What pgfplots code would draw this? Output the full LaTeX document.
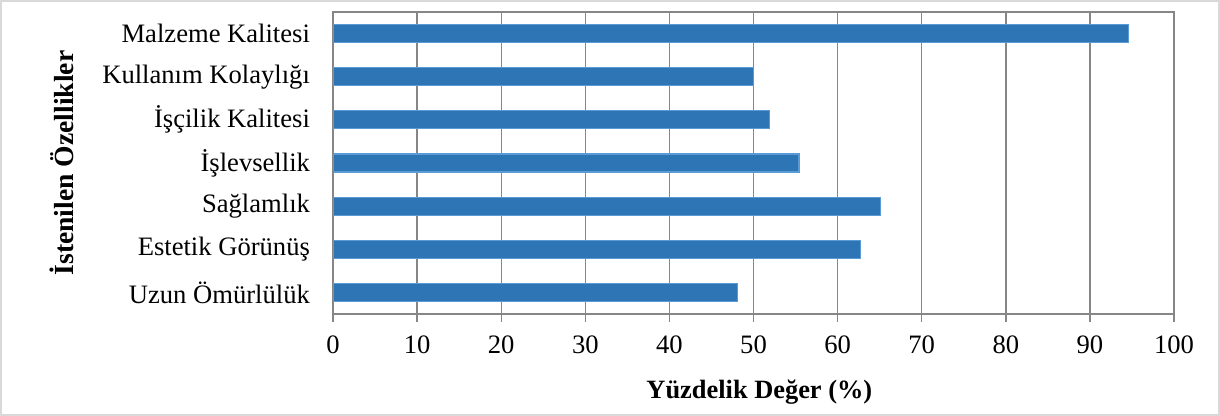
\documentclass[border=0pt]{standalone}
\usepackage{fontspec}
\setmainfont{Liberation Serif}
\usepackage{pgfplots}
\pgfplotsset{compat=1.18}
\definecolor{barfill}{HTML}{2E75B6}
\definecolor{barline}{HTML}{5B9BD5}
\definecolor{axgray}{HTML}{868686}
\definecolor{frame}{HTML}{D9D9D9}
\begin{document}
\begin{tikzpicture}
\useasboundingbox (0,0) rectangle (610pt,208pt);
\draw[frame, line width=1pt] (0.5pt,0.5pt) rectangle (609.5pt,207.5pt);
\begin{axis}[
  at={(166.5pt,51pt)}, anchor=south west,
  scale only axis, width=420.5pt, height=151pt,
  xmin=0, xmax=100, ymin=-0.5, ymax=6.5,
  xtick={0,10,...,100},
  ytick={0,1,2,3,4,5,6},
  yticklabels={Uzun Ömürlülük, Estetik Görünüş, Sağlamlık, İşlevsellik, İşçilik Kalitesi, Kullanım Kolaylığı, Malzeme Kalitesi},
  xmajorgrids,
  major grid style={axgray, line width=0.7pt},
  axis line style={axgray, line width=0.7pt},
  xtick pos=bottom, xtick align=outside,
  major tick length=4pt,
  xtick style={axgray, line width=0.7pt},
  ytick style={draw=none},
  /pgf/number format/assume math mode=true,
  tick label style={font=\fontsize{13.3}{16}\selectfont, black},
  xticklabel style={yshift=-3.5pt},
  yticklabel style={xshift=-8pt},
  xlabel={\textbf{Yüzdelik Değer (\%)}},
  ylabel={\textbf{İstenilen Özellikler}},
  xlabel style={font=\fontsize{13.2}{16}\selectfont, at={(axis description cs:0.507,-0.2583)}, anchor=center},
  ylabel style={font=\fontsize{13.8}{16}\selectfont, at={(axis description cs:-0.3222,0.5)}, anchor=center},
]
\addplot[xbar, bar width=9pt, fill=barfill, draw=barline, line width=0.6pt]
  coordinates {(48.1,0) (62.7,1) (65.1,2) (55.4,3) (51.9,4) (50.0,5) (94.6,6)};
\end{axis}
\end{tikzpicture}
\end{document}
